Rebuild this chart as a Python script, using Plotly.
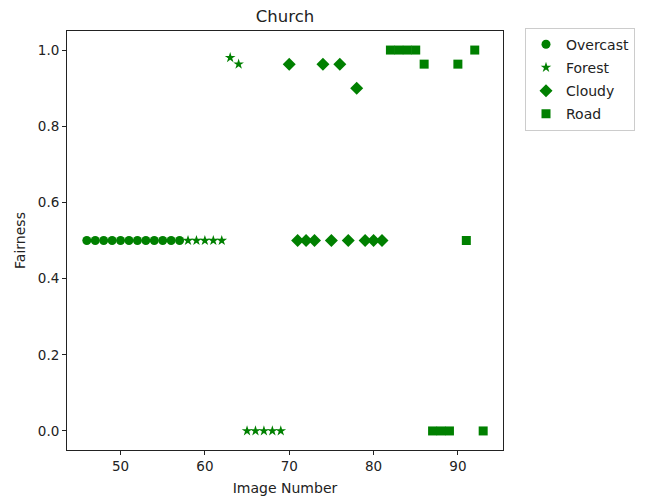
import plotly.graph_objects as go

overcast_x = [46, 47, 48, 49, 50, 51, 52, 53, 54, 55, 56, 57]
overcast_y = [0.5] * 12

forest_x = [58, 59, 60, 61, 62, 63, 64, 65, 66, 67, 68, 69]
forest_y = [0.5, 0.5, 0.5, 0.5, 0.5, 0.98, 0.963, 0.0, 0.0, 0.0, 0.0, 0.0]

cloudy_x = [70, 71, 72, 73, 74, 75, 76, 77, 78, 79, 80, 81]
cloudy_y = [0.963, 0.5, 0.5, 0.5, 0.963, 0.5, 0.963, 0.5, 0.9, 0.5, 0.5, 0.5]

road_x = [82, 83, 84, 85, 86, 87, 88, 89, 90, 91, 92, 93]
road_y = [1.0, 1.0, 1.0, 1.0, 0.963, 0.0, 0.0, 0.0, 0.963, 0.5, 1.0, 0.0]

x_ticks = [50, 60, 70, 80, 90]
y_ticks = [0, 0.2, 0.4, 0.6, 0.8, 1.0]

GREEN = "#008000"
font = "DejaVu Sans"

fig = go.Figure()
fig.add_trace(go.Scatter(x=overcast_x, y=overcast_y, mode="markers", name="Overcast",
                         legendgroup="a",
                         marker=dict(symbol="circle", size=9, color=GREEN)))
fig.add_trace(go.Scatter(x=forest_x, y=forest_y, mode="markers", name="Forest",
                         legendgroup="b",
                         marker=dict(symbol="star", size=8, color=GREEN)))
fig.add_trace(go.Scatter(x=cloudy_x, y=cloudy_y, mode="markers", name="Cloudy",
                         legendgroup="c",
                         marker=dict(symbol="diamond", size=10, color=GREEN)))
fig.add_trace(go.Scatter(x=road_x, y=road_y, mode="markers", name="Road",
                         legendgroup="d",
                         marker=dict(symbol="square", size=9, color=GREEN)))

axis_common = dict(showline=True, mirror=True, linecolor="#222", linewidth=1,
                   ticks="outside", ticklen=4, tickcolor="#222", showgrid=False,
                   zeroline=False, automargin=False,
                   tickfont=dict(family=font, size=13.5, color="#222"))

W, H = 647, 499
fig.update_layout(
    width=W, height=H,
    margin=dict(l=67, r=144, t=31, b=49),
    paper_bgcolor="white", plot_bgcolor="white",
    font=dict(family=font, size=14, color="#222"),
    title=dict(text="Church", x=(67 + 503) / 2 / W, xanchor="center", y=1 - 16 / H,
               yanchor="middle", font=dict(family=font, size=16.5, color="#222")),
    xaxis=dict(range=[43.65, 95.35], tickvals=x_ticks,
               title=dict(text="Image Number", font=dict(family=font, size=14), standoff=9),
               **axis_common),
    yaxis=dict(range=[-0.05, 1.05], tickvals=y_ticks,
               tickformat=".1f",
               title=dict(text="Fairness", font=dict(family=font, size=14), standoff=8),
               **axis_common),
    legend=dict(x=(525 - 67) / 436, y=1.008, xanchor="left", yanchor="top",
                bordercolor="#ccc", borderwidth=1, bgcolor="white",
                font=dict(family=font, size=14, color="#222"),
                tracegroupgap=2, itemsizing="trace"),
    showlegend=True,
)

fig.write_html("out.html", config={"displayModeBar": False},
               post_script="document.body.style.margin='0';")
